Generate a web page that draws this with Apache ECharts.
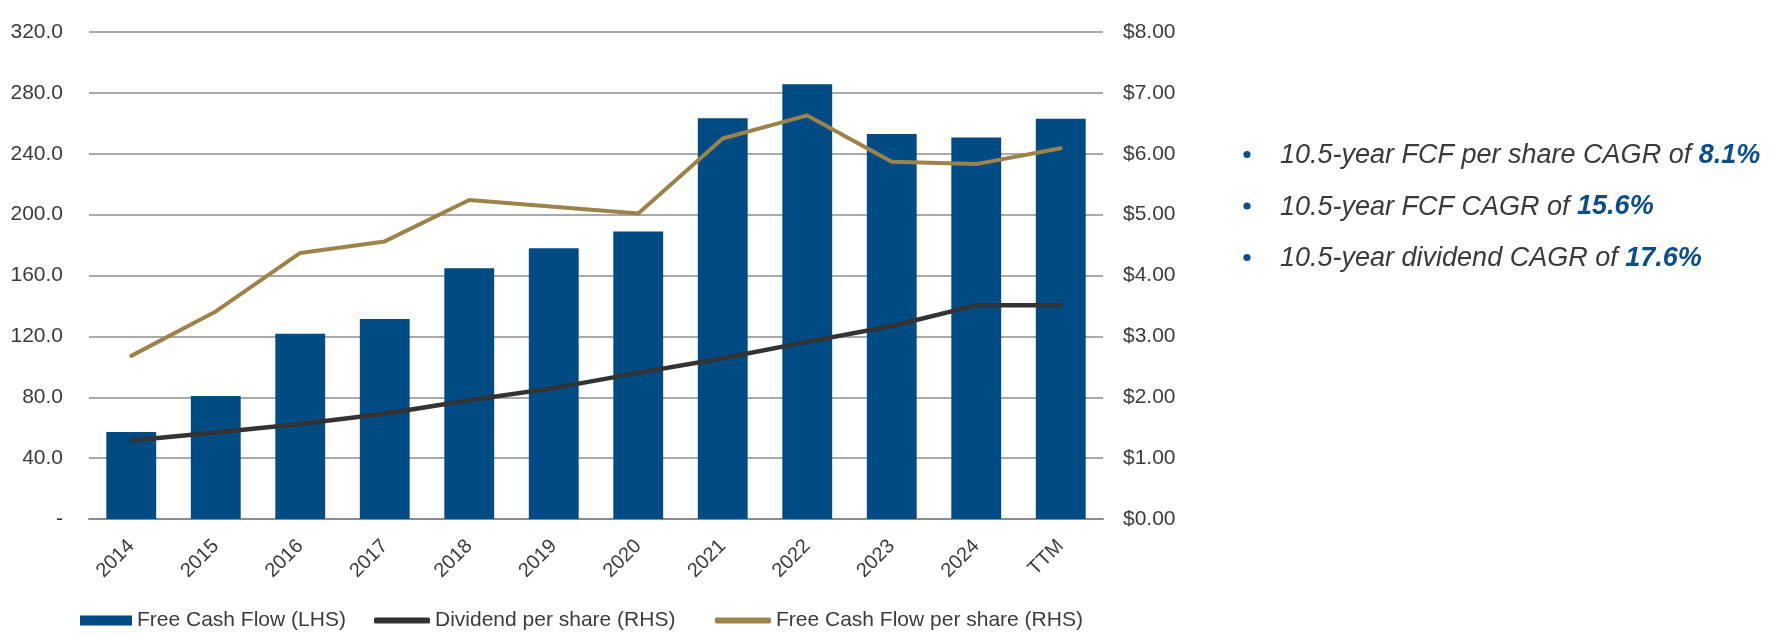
<!DOCTYPE html>
<html>
<head>
<meta charset="utf-8">
<script src="https://cdn.jsdelivr.net/npm/echarts@6/dist/echarts.min.js"></script>
<style>
html,body{margin:0;padding:0;background:#fff;}
#chart{width:1777px;height:634px;}
</style>
</head>
<body>
<div id="chart"></div>
<script>
const categories = ['2014','2015','2016','2017','2018','2019','2020','2021','2022','2023','2024','TTM'];
const freeCashFlow = [57.2, 80.9, 121.7, 131.4, 164.8, 177.9, 188.9, 263.4, 285.7, 252.9, 250.7, 263.0];
const dividendPerShare = [1.29, 1.42, 1.56, 1.73, 1.95, 2.15, 2.40, 2.64, 2.91, 3.17, 3.51, 3.51];
const fcfPerShare = [2.68, 3.41, 4.37, 4.56, 5.24, 5.13, 5.02, 6.25, 6.63, 5.87, 5.83, 6.09];
const seriesNames = ['Free Cash Flow (LHS)', 'Dividend per share (RHS)', 'Free Cash Flow per share (RHS)'];
const bulletLines = [
  ['10.5-year FCF per share CAGR of ', '8.1%'],
  ['10.5-year FCF CAGR of ', '15.6%'],
  ['10.5-year dividend CAGR of ', '17.6%']
];

const FONT = "'Liberation Sans', Arial, Helvetica, sans-serif";
const TXT = '#3c3c3c';
const BLUE = '#014B85';
const GOLD = '#9C8349';
const DARK = '#333333';

const chart = echarts.init(document.getElementById('chart'), null, {renderer: 'canvas'});

const graphics = [];
bulletLines.forEach((ln, i) => {
  const cy = 155.5 + i * 51.5;
  graphics.push({
    type: 'circle', shape: {cx: 1247, cy: cy - 1, r: 3.6},
    style: {fill: '#0B4F8A'}
  });
  graphics.push({
    type: 'text', x: 1280, y: cy,
    style: {
      text: '{n|' + ln[0] + '}{b|' + ln[1] + '}',
      verticalAlign: 'middle',
      rich: {
        n: {fontSize: 27, fontStyle: 'italic', fontFamily: FONT, fill: '#3a3a3a'},
        b: {fontSize: 27, fontStyle: 'italic', fontWeight: 'bold', fontFamily: FONT, fill: '#0B4F8A'}
      }
    }
  });
});

const legendBase = {
  orient: 'horizontal', top: 610, padding: 0,
  textStyle: {fontSize: 21, color: TXT, fontFamily: FONT},
  itemStyle: {borderWidth: 0},
  lineStyle: {width: 0},
  selectedMode: false
};

const option = {
  animation: false,
  backgroundColor: '#ffffff',
  textStyle: {fontFamily: FONT},
  grid: {left: 89, right: 674, top: 32, bottom: 115, containLabel: false},
  legend: [
    Object.assign({}, legendBase, {left: 80, data: [{name: seriesNames[0], icon: 'rect'}], itemWidth: 52, itemHeight: 10}),
    Object.assign({}, legendBase, {left: 374, data: [{name: seriesNames[1], icon: 'roundRect'}], itemWidth: 56, itemHeight: 6}),
    Object.assign({}, legendBase, {left: 715, data: [{name: seriesNames[2], icon: 'roundRect'}], itemWidth: 56, itemHeight: 6})
  ],
  xAxis: {
    type: 'category',
    data: categories,
    axisLine: {show: true, lineStyle: {color: '#8c8c8c', width: 2}},
    axisTick: {show: false},
    axisLabel: {
      rotate: 45, fontSize: 20, color: TXT, fontFamily: FONT, margin: 24, interval: 0
    }
  },
  yAxis: [
    {
      type: 'value', min: 0, max: 320, interval: 40,
      axisLine: {show: false}, axisTick: {show: false},
      splitLine: {show: true, lineStyle: {color: '#8e8e8e', width: 1.6}},
      axisLabel: {
        fontSize: 21, color: TXT, fontFamily: FONT, margin: 26,
        formatter: v => v === 0 ? '-' : v.toFixed(1)
      }
    },
    {
      type: 'value', min: 0, max: 8, interval: 1,
      axisLine: {show: false}, axisTick: {show: false},
      splitLine: {show: false},
      axisLabel: {
        fontSize: 21, color: TXT, fontFamily: FONT, margin: 20,
        formatter: v => '$' + v.toFixed(2)
      }
    }
  ],
  series: [
    {
      name: seriesNames[0], type: 'bar', yAxisIndex: 0,
      data: freeCashFlow, barWidth: '59%',
      itemStyle: {color: BLUE},
      z: 2
    },
    {
      name: seriesNames[1], type: 'line', yAxisIndex: 1,
      data: dividendPerShare, symbol: 'none', showSymbol: false,
      color: DARK,
      itemStyle: {color: DARK},
      lineStyle: {color: DARK, width: 4.5, cap: 'round', join: 'round'},
      z: 4
    },
    {
      name: seriesNames[2], type: 'line', yAxisIndex: 1,
      data: fcfPerShare, symbol: 'none', showSymbol: false,
      color: GOLD,
      itemStyle: {color: GOLD},
      lineStyle: {color: GOLD, width: 4, cap: 'round', join: 'round'},
      z: 5
    }
  ],
  graphic: graphics
};

chart.setOption(option);
</script>
</body>
</html>
